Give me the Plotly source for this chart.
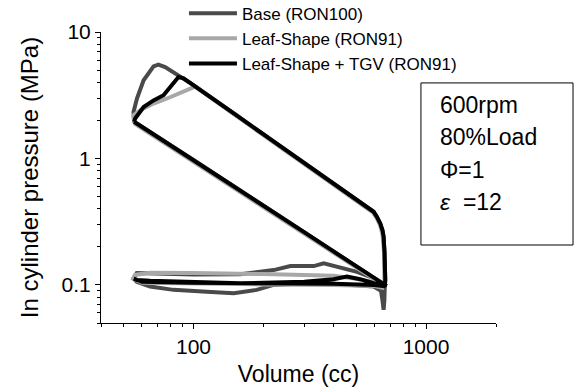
import plotly.graph_objects as go

# ---------------- data ----------------
base_V = [55.5, 55.2, 57.1, 61, 67.3, 70.6, 75.5, 87.7, 100, 150, 200, 300, 428, 500, 595,
          615, 636, 650, 657, 663, 668, 668, 665,
          595, 505, 400, 363, 329, 261, 221, 159, 100, 70, 57, 55.2,
          57, 65, 82, 114, 149, 187, 221, 308, 400, 595, 640, 650, 657, 662, 665,
          600, 500, 428, 300, 200, 150, 100, 70, 55.5]
base_P = [1.95, 2.33, 2.98, 4.15, 5.35, 5.52, 5.28, 4.41, 3.8, 2.25, 1.55, 0.914, 0.576, 0.47, 0.379,
          0.345, 0.305, 0.27, 0.24, 0.18, 0.139, 0.11, 0.1,
          0.113, 0.127, 0.141, 0.148, 0.141, 0.141, 0.131, 0.1215, 0.121, 0.122, 0.124, 0.113,
          0.106, 0.097, 0.0914, 0.0885, 0.086, 0.0914, 0.1, 0.1031, 0.102, 0.097, 0.09, 0.075, 0.0635, 0.075, 0.1,
          0.113, 0.141, 0.17, 0.26, 0.423, 0.598, 0.972, 1.49, 1.95]

leaf_V = [55.5, 55.2, 59, 67.3, 76.9, 87.7, 96.8, 101.7, 150, 200, 300, 428, 500, 590,
          612, 633, 650, 660, 664, 662,
          595, 500, 400, 300, 200, 100, 65, 56, 55,
          60, 100, 200, 400, 600, 650, 660,
          600, 500, 400, 300, 200, 150, 100, 70, 55.5]
leaf_P = [1.9, 2.2, 2.41, 2.72, 2.98, 3.29, 3.57, 3.7, 2.22, 1.52, 0.9, 0.568, 0.465, 0.375,
          0.34, 0.3, 0.25, 0.18, 0.13, 0.1,
          0.105, 0.112, 0.118, 0.12, 0.122, 0.124, 0.125, 0.12, 0.112,
          0.104, 0.102, 0.101, 0.1, 0.098, 0.095, 0.1,
          0.111, 0.138, 0.18, 0.255, 0.415, 0.59, 0.96, 1.47, 1.9]

tgv_V = [55.5, 56.1, 61, 67.3, 74.3, 79.4, 83.4, 86.2, 90.6, 100, 150, 200, 300, 428, 500, 595,
         615, 636, 650, 657, 663, 668, 668, 666,
         595, 521, 457, 400, 300, 159, 100, 65, 57.1, 55.3,
         60, 100, 200, 300, 400, 600, 660, 666,
         600, 500, 400, 300, 200, 150, 100, 70, 55.5]
tgv_P = [1.95, 2.07, 2.55, 2.88, 3.16, 3.67, 4.2, 4.41, 4.3, 3.8, 2.25, 1.55, 0.914, 0.576, 0.47, 0.379,
         0.345, 0.305, 0.27, 0.24, 0.18, 0.139, 0.11, 0.1,
         0.1031, 0.111, 0.1163, 0.111, 0.106, 0.1031, 0.105, 0.108, 0.1095, 0.112,
         0.106, 0.104, 0.103, 0.103, 0.102, 0.1, 0.098, 0.1,
         0.113, 0.141, 0.184, 0.26, 0.423, 0.598, 0.972, 1.49, 1.95]

series_names = ["Base (RON100)", "Leaf-Shape (RON91)", "Leaf-Shape + TGV (RON91)"]
x_major = [100, 1000]
x_minor = [40, 50, 60, 70, 80, 90, 200, 300, 400, 500, 600, 700, 800, 900, 2000]
y_major = [0.1, 1, 10]
y_minor = [0.05, 0.06, 0.07, 0.08, 0.09, 0.2, 0.3, 0.4, 0.5, 0.6, 0.7, 0.8, 0.9,
           2, 3, 4, 5, 6, 7, 8, 9]
box_lines = ["600rpm", "80%Load", "Φ=1", "<i>ε</i>  =12"]

FONT = "Liberation Sans, Arial, sans-serif"

fig = go.Figure()
for name, V, P, col in [(series_names[0], base_V, base_P, "#4a4a4a"),
                        (series_names[1], leaf_V, leaf_P, "#a8a8a8"),
                        (series_names[2], tgv_V, tgv_P, "#000000")]:
    fig.add_trace(go.Scatter(x=V, y=P, mode="lines", name=name,
                             line=dict(color=col, width=4)))

axis_common = dict(type="log", showline=True, linecolor="black", linewidth=1,
                   ticks="outside", ticklen=5, tickcolor="black", showgrid=False,
                   zeroline=False, tickfont=dict(family=FONT, size=21, color="black"),
                   tickmode="array")
fig.update_xaxes(**axis_common, range=[1.60206, 3.30103], tickvals=x_major,
                 ticktext=[str(v) for v in x_major],
                 minor=dict(tickmode="array", tickvals=x_minor, ticks="outside",
                            ticklen=3, tickcolor="black", showgrid=False),
                 title=dict(text="Volume (cc)", font=dict(family=FONT, size=23, color="black"),
                            standoff=8))
fig.update_yaxes(**axis_common, range=[-1.30103, 1.0], tickvals=y_major,
                 ticktext=["0.1", "1", "10"],
                 minor=dict(tickmode="array", tickvals=y_minor, ticks="outside",
                            ticklen=3, tickcolor="black", showgrid=False),
                 title=dict(text="In cylinder pressure (MPa)",
                            font=dict(family=FONT, size=24, color="black"), standoff=16))

fig.add_shape(type="rect", xref="paper", yref="paper", x0=0.81, x1=1.195, y0=0.268, y1=0.825,
              line=dict(color="black", width=1), fillcolor="rgba(0,0,0,0)")
ys = [0.75, 0.64, 0.527, 0.417]
for t, yy in zip(box_lines, ys):
    fig.add_annotation(text=t, xref="paper", yref="paper", x=0.853, y=yy, xanchor="left",
                       yanchor="middle", showarrow=False,
                       font=dict(family=FONT, size=23, color="black"))

fig.update_layout(width=574, height=392,
                  margin=dict(l=101, r=78, t=32, b=69, autoexpand=False),
                  plot_bgcolor="white", paper_bgcolor="white",
                  legend=dict(x=0.21, y=1.125, xanchor="left", yanchor="top",
                              bgcolor="rgba(0,0,0,0)", font=dict(family=FONT, size=17, color="black"),
                              tracegroupgap=0, itemwidth=48))
fig.write_html("out.html")
